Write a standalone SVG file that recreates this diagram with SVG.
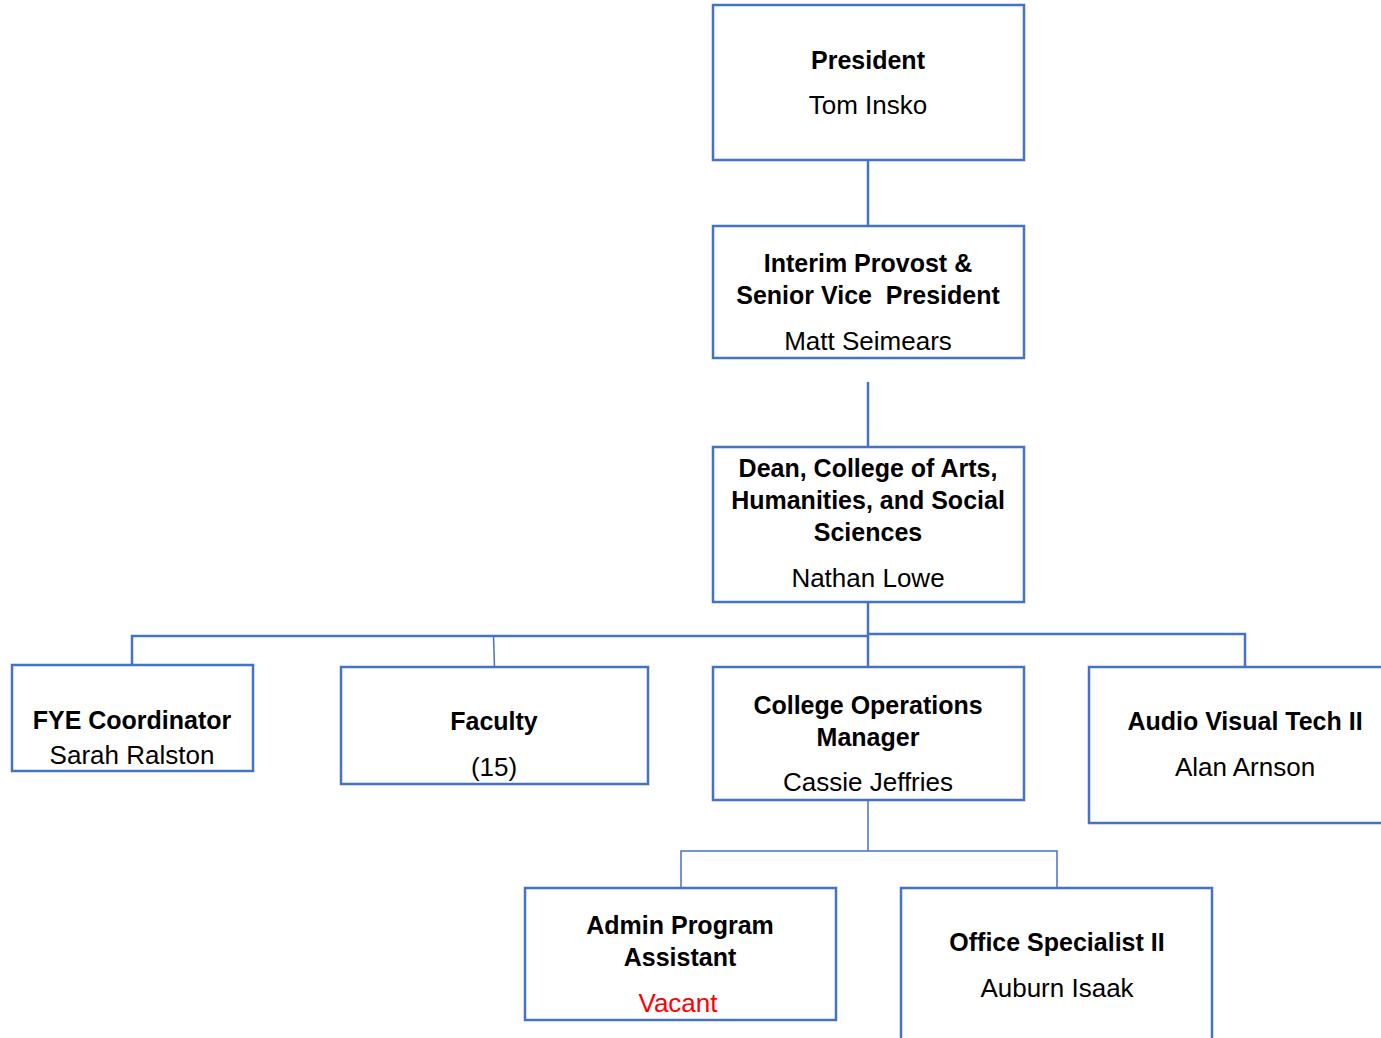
<svg xmlns="http://www.w3.org/2000/svg" width="1381" height="1038" viewBox="0 0 1381 1038">
<style>
.box{fill:#fff;stroke:#4472C4;stroke-width:2.5}
.ln{fill:none;stroke:#4472C4;stroke-width:2.5}
.thin{stroke-width:1.5}
text{font-family:"Liberation Sans",Arial,sans-serif;text-anchor:middle;fill:#000}
.t{font-weight:bold;font-size:25px}
.n{font-size:26px}
.red{fill:#FF0000}
</style>
<rect width="1381" height="1038" fill="#fff"/>
<g id="connectors">
<line class="ln" x1="868" y1="160" x2="868" y2="226"/>
<line class="ln" x1="868" y1="382" x2="868" y2="447"/>
<line class="ln" x1="868" y1="602" x2="868" y2="667"/>
<polyline class="ln" points="132,668 132,636 868,636"/>
<polyline class="ln" points="868,634 1245,634 1245,667"/>
<line class="ln thin" x1="493.5" y1="636" x2="494.5" y2="667"/>
<polyline class="ln thin" points="868,800 868,851"/>
<polyline class="ln thin" points="681,888 681,851 1057,851 1057,888"/>
</g>
<g id="president">
<rect class="box" x="713" y="5" width="311" height="155"/>
<text class="t" x="868" y="69">President</text>
<text class="n" x="868" y="114">Tom Insko</text>
</g>
<g id="provost">
<rect class="box" x="713" y="226" width="311" height="132"/>
<text class="t" x="868" y="272">Interim Provost &amp;</text>
<text class="t" x="868" y="304">Senior Vice&#160; President</text>
<text class="n" x="868" y="350">Matt Seimears</text>
</g>
<g id="dean">
<rect class="box" x="713" y="447" width="311" height="155"/>
<text class="t" x="868" y="477">Dean, College of Arts,</text>
<text class="t" x="868" y="509">Humanities, and Social</text>
<text class="t" x="868" y="541">Sciences</text>
<text class="n" x="868" y="587">Nathan Lowe</text>
</g>
<g id="fye">
<rect class="box" x="12" y="665" width="241" height="106"/>
<text class="t" x="132" y="729">FYE Coordinator</text>
<text class="n" x="132" y="764">Sarah Ralston</text>
</g>
<g id="faculty">
<rect class="box" x="341" y="667" width="307" height="117"/>
<text class="t" x="494" y="730">Faculty</text>
<text class="n" x="494" y="776">(15)</text>
</g>
<g id="com">
<rect class="box" x="713" y="667" width="311" height="133"/>
<text class="t" x="868" y="714">College Operations</text>
<text class="t" x="868" y="746">Manager</text>
<text class="n" x="868" y="791">Cassie Jeffries</text>
</g>
<g id="avtech">
<rect class="box" x="1089" y="667" width="300" height="156"/>
<text class="t" x="1245" y="730">Audio Visual Tech II</text>
<text class="n" x="1245" y="776">Alan Arnson</text>
</g>
<g id="admin">
<rect class="box" x="525" y="888" width="311" height="132"/>
<text class="t" x="680" y="934">Admin Program</text>
<text class="t" x="680" y="966">Assistant</text>
<text class="n red" x="678" y="1012">Vacant</text>
</g>
<g id="office">
<rect class="box" x="901" y="888" width="311" height="160"/>
<text class="t" x="1057" y="951">Office Specialist II</text>
<text class="n" x="1057" y="997">Auburn Isaak</text>
</g>
</svg>
